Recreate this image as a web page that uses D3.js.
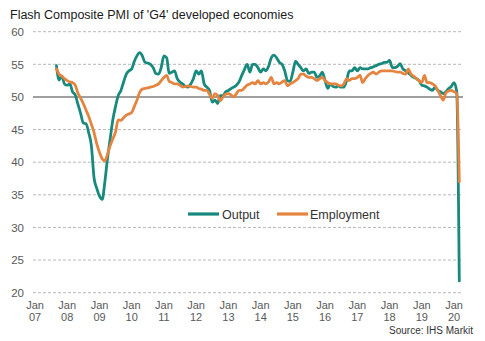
<!DOCTYPE html>
<html><head><meta charset="utf-8">
<script src="https://cdn.jsdelivr.net/npm/d3@7"></script>
<style>
html,body{margin:0;padding:0;background:#fff;}
text{font-family:"Liberation Sans",Arial,sans-serif;}
</style></head>
<body><svg id="c" width="485" height="341"></svg>
<script>
const title = "Flash Composite PMI of 'G4' developed economies";
const sourceText = "Source: IHS Markit";
const seriesNames = ["Output", "Employment"];
const startMonth = "2007-09"; // first observation
const yTicks = [20, 25, 30, 35, 40, 45, 50, 55, 60];
const xTickYears = ["07","08","09","10","11","12","13","14","15","16","17","18","19","20"];

const output = [
 54.8,52.6,53.2,52.0,
 51.8,52.0,50.8,50.3,48.9,47.5,46.0,45.9,44.5,42.5,37.5,36.0,
 34.8,34.3,36.8,40.5,43.5,46.5,48.5,50.2,51.0,52.3,53.5,54.0,
 54.3,55.5,56.3,56.8,56.3,55.3,55.2,55.0,54.5,53.6,53.5,54.5,
 56.3,56.0,53.6,53.8,54.0,52.8,52.3,52.0,51.6,51.5,52.0,52.8,
 54.0,53.5,54.0,52.0,51.5,51.0,49.2,49.5,49.0,50.2,50.2,50.8,
 51.0,51.3,51.5,51.8,52.3,53.3,54.2,55.0,53.8,55.0,55.0,54.5,
 53.8,54.3,54.0,54.7,56.0,56.4,56.0,55.3,55.0,54.0,52.5,52.4,
 53.8,55.5,55.0,54.5,54.0,54.3,53.6,53.8,53.8,53.0,53.2,53.8,
 52.5,51.3,52.0,51.6,51.5,51.7,51.5,51.5,52.5,54.0,54.0,54.5,
 54.0,54.5,54.3,54.3,54.3,54.5,54.6,54.8,55.0,55.1,55.3,55.3,
 55.6,54.5,54.5,54.7,55.1,54.3,54.0,53.7,53.3,53.0,52.8,52.5,
 51.8,51.7,51.5,51.2,51.0,51.5,51.0,50.8,50.5,50.8,51.3,51.6,
 52.2,50.8,21.8
];
const employment = [
 54.3,53.5,53.2,52.8,
 52.5,52.3,52.2,51.8,50.6,49.8,49.0,48.0,47.0,45.8,44.5,42.8,
 41.5,40.5,40.2,41.2,42.5,43.6,44.6,46.5,46.4,46.8,47.2,47.4,
 47.6,48.6,49.5,50.7,51.2,51.3,51.4,51.5,51.6,51.8,52.0,52.5,
 53.0,53.3,52.4,52.2,52.0,52.0,51.8,51.5,51.6,51.7,51.6,51.5,
 51.5,51.3,51.2,51.0,51.0,50.4,49.8,50.5,50.2,49.4,50.0,50.4,
 50.5,50.3,50.0,50.5,51.0,51.0,51.4,51.8,52.0,52.2,52.0,52.5,
 52.0,52.2,52.0,52.3,53.0,52.0,52.2,52.0,52.3,52.5,51.7,52.0,
 52.2,52.5,52.8,53.5,53.5,53.2,53.0,53.0,52.8,52.5,52.8,53.0,
 52.5,52.2,52.0,52.0,52.0,51.8,51.7,52.0,52.8,52.5,52.8,52.8,
 53.0,53.3,52.2,52.8,53.3,53.6,53.8,53.5,53.8,54.0,54.0,54.0,
 54.0,54.0,53.9,53.8,53.8,53.6,53.5,54.3,53.5,53.2,52.8,52.5,
 52.2,53.3,52.2,52.2,52.0,51.7,51.0,50.2,49.5,50.6,50.9,51.0,
 50.8,50.5,37.0
];
const colors = ["#17897d", "#e5843f"];

const svg = d3.select("#c");
const parse = d3.timeParse("%Y-%m");
const t0 = parse(startMonth);
const dates = output.map((_, i) => d3.timeMonth.offset(t0, i));

const x = d3.scaleTime()
  .domain([new Date(2007, 0, 1), new Date(2020, 0, 1)])
  .range([35, 454]);
const y = d3.scaleLinear().domain([20, 60]).range([292.7, 31.7]);
const plotL = 33, plotR = 463;

svg.append("rect").attr("width", 485).attr("height", 341).attr("fill", "#fff");

svg.append("text").attr("x", 10).attr("y", 19)
  .attr("font-size", 12.5).attr("fill", "#1a1a1a").text(title);

// gridlines
svg.append("g").selectAll("line").data(yTicks.filter(d => d !== 50)).join("line")
  .attr("x1", plotL).attr("x2", plotR)
  .attr("y1", d => y(d)).attr("y2", d => y(d))
  .attr("stroke", "#a6a6a6").attr("stroke-width", 0.8).attr("stroke-dasharray", "3,2");
svg.append("line").attr("x1", plotL).attr("x2", plotR)
  .attr("y1", y(50)).attr("y2", y(50)).attr("stroke", "#7f7f7f").attr("stroke-width", 1.4);

// y axis labels via d3 axis
const yAxis = svg.append("g").attr("transform", `translate(${plotL - 9},0)`)
  .call(d3.axisLeft(y).tickValues(yTicks).tickSize(0).tickPadding(0));
yAxis.select(".domain").remove();
yAxis.selectAll("text").attr("font-size", 11.5).attr("fill", "#595959")
  .attr("font-family", "Liberation Sans, Arial, sans-serif");

// x axis labels
const xDates = xTickYears.map(s => new Date(2000 + (+s), 0, 1));
const xg = svg.append("g");
xg.selectAll("text.m").data(xDates).join("text").attr("class", "m")
  .attr("x", d => x(d)).attr("y", 309).attr("text-anchor", "middle")
  .attr("font-size", 11).attr("fill", "#595959").text("Jan");
xg.selectAll("text.yr").data(xTickYears).join("text").attr("class", "yr")
  .attr("x", (d, i) => x(xDates[i])).attr("y", 321).attr("text-anchor", "middle")
  .attr("font-size", 11).attr("fill", "#595959").text(d => d);

// lines
const line = d3.line().x((d, i) => x(dates[i])).y(d => y(d)).curve(d3.curveMonotoneX);
[output, employment].forEach((s, k) => {
  svg.append("path").attr("d", line(s)).attr("fill", "none")
    .attr("stroke", colors[k]).attr("stroke-width", 2.8)
    .attr("stroke-linejoin", "round").attr("stroke-linecap", "round");
});

// legend
const leg = [{x: 188, tx: 222}, {x: 277, tx: 310}];
seriesNames.forEach((n, k) => {
  svg.append("line").attr("x1", leg[k].x).attr("x2", leg[k].x + 31)
    .attr("y1", 214).attr("y2", 214).attr("stroke", colors[k]).attr("stroke-width", 3.2);
  svg.append("text").attr("x", leg[k].tx).attr("y", 218.5)
    .attr("font-size", 12.5).attr("fill", "#333").text(n);
});

svg.append("text").attr("x", 473).attr("y", 334).attr("text-anchor", "end")
  .attr("font-size", 10).attr("fill", "#333").text(sourceText);
</script></body></html>
